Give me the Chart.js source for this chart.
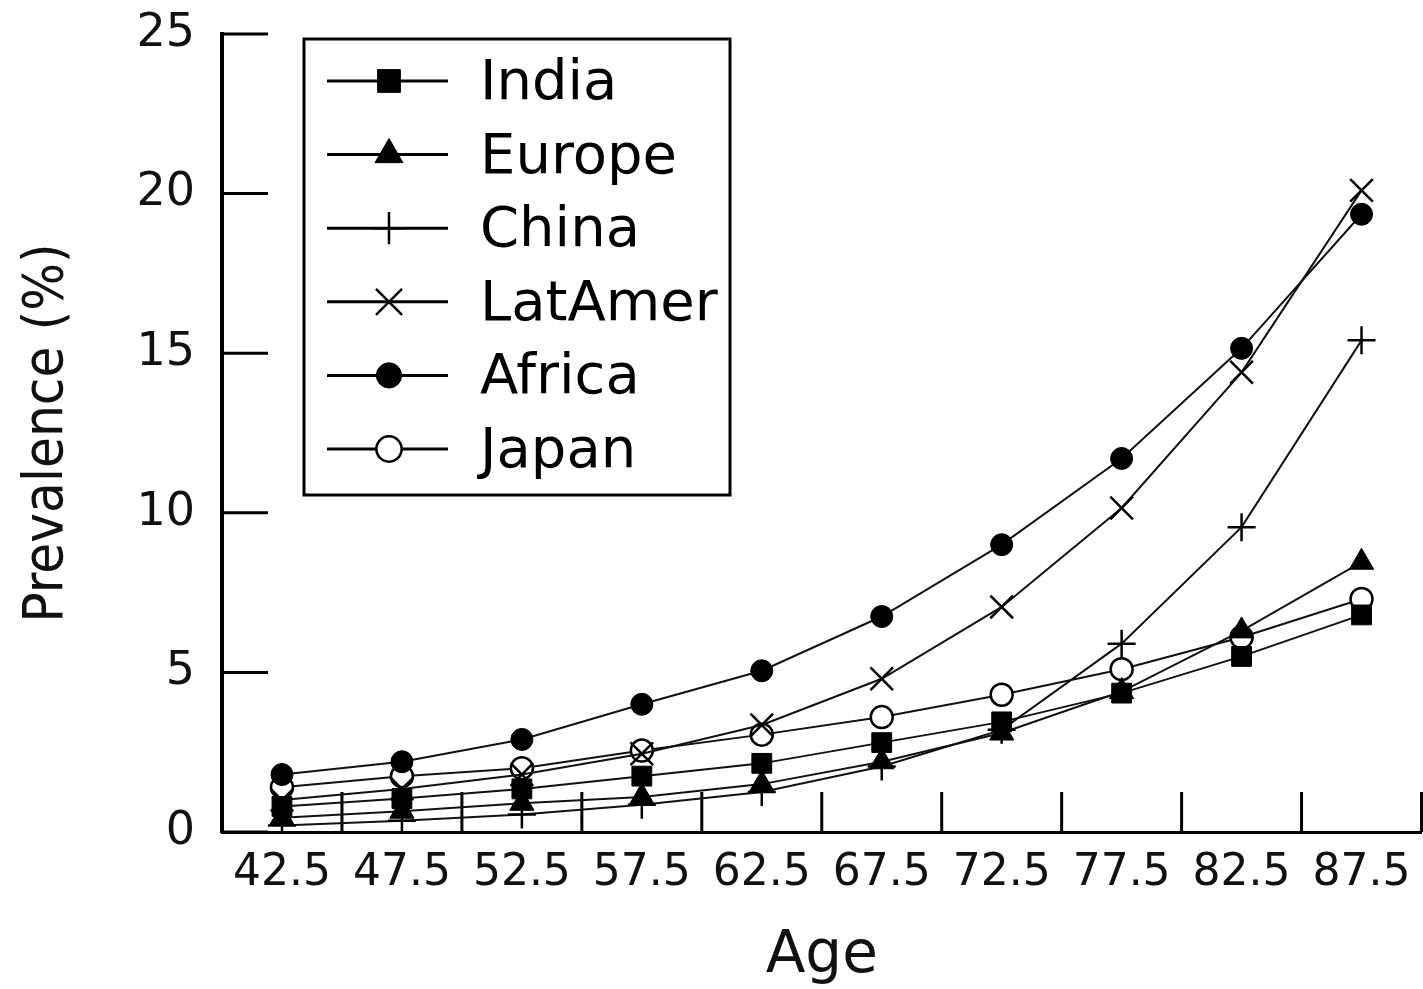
<!DOCTYPE html>
<html>
<head>
<meta charset="utf-8">
<script src="https://cdn.jsdelivr.net/npm/chart.js@4.4.0/dist/chart.umd.min.js"></script>
<style>
    html, body { margin: 0; padding: 0; background: #fff; overflow: hidden; }
    #wrap { width: 1440px; height: 989px; }
</style>
</head>
<body>
<div id="wrap"><canvas id="prevalence-chart"></canvas></div>
<script>
const ages = ['42.5', '47.5', '52.5', '57.5', '62.5', '67.5', '72.5', '77.5', '82.5', '87.5'];
const yTicks = [0, 5, 10, 15, 20, 25];

const india   = [0.8, 1.05, 1.35, 1.75, 2.15, 2.8, 3.45, 4.35, 5.5, 6.8];
const europe  = [0.45, 0.65, 0.9, 1.1, 1.5, 2.2, 3.1, 4.4, 6.3, 8.45];
const china   = [0.2, 0.35, 0.55, 0.85, 1.25, 2.05, 3.2, 5.9, 9.55, 15.4];
const latAmer = [1.0, 1.35, 1.8, 2.45, 3.35, 4.8, 7.05, 10.15, 14.4, 20.1];
const africa  = [1.8, 2.2, 2.9, 4.0, 5.05, 6.75, 9.0, 11.7, 15.15, 19.35];
const japan   = [1.4, 1.75, 2.0, 2.55, 3.05, 3.6, 4.3, 5.1, 6.1, 7.3];

function series(label, data, style, radius, fill) {
    return {
        label: label,
        data: data,
        borderColor: '#111',
        borderWidth: 2,
        tension: 0,
        pointStyle: style,
        pointRadius: radius,
        pointHoverRadius: radius,
        pointBackgroundColor: fill,
        pointBorderColor: '#000',
        pointBorderWidth: (style === 'cross' || style === 'crossRot' || fill === '#fff') ? 2.5 : 1
    };
}

// inner tick marks, like the original figure
const innerTicks = {
    id: 'innerTicks',
    beforeDatasetsDraw(chart) {
        const ctx = chart.ctx;
        const x = chart.scales.x, y = chart.scales.y;
        ctx.save();
        ctx.strokeStyle = '#000';
        ctx.lineWidth = 3;
        ctx.beginPath();
        yTicks.forEach(v => {
            const py = y.getPixelForValue(v);
            ctx.moveTo(x.left, py);
            ctx.lineTo(x.left + 46, py);
        });
        for (let i = 0; i <= ages.length; i++) {
            const px = x.getPixelForValue(i - 0.5);
            ctx.moveTo(px, y.bottom);
            ctx.lineTo(px, y.bottom - 40);
        }
        ctx.stroke();
        ctx.restore();
    }
};

function marker(ctx, style, r, fill, x, y) {
    ctx.fillStyle = fill;
    ctx.strokeStyle = '#000';
    ctx.lineWidth = (style === 'cross' || style === 'crossRot' || fill === '#fff') ? 2.5 : 1;
    if (Chart.helpers && Chart.helpers.drawPoint) {
        Chart.helpers.drawPoint(ctx, { pointStyle: style, radius: r, rotation: 0, borderWidth: ctx.lineWidth }, x, y);
    } else {
        ctx.beginPath();
        ctx.arc(x, y, r, 0, Math.PI * 2);
        ctx.fill();
        ctx.stroke();
    }
}

// boxed legend with a line sample and the marker in the middle
const boxLegend = {
    id: 'boxLegend',
    afterDraw(chart) {
        const ctx = chart.ctx;
        ctx.save();
        ctx.strokeStyle = '#000';
        ctx.lineWidth = 3;
        ctx.strokeRect(304, 39, 426, 456);
        chart.data.datasets.forEach((ds, i) => {
            const ry = 81 + i * 73.6;
            ctx.strokeStyle = '#000';
            ctx.lineWidth = 3;
            ctx.beginPath();
            ctx.moveTo(327, ry);
            ctx.lineTo(448, ry);
            ctx.stroke();
            marker(ctx, ds.pointStyle, ds.pointRadius * 1.15, ds.pointBackgroundColor, 389, ry);
            ctx.fillStyle = '#000';
            ctx.font = '56px "DejaVu Sans"';
            ctx.textAlign = 'left';
            ctx.textBaseline = 'alphabetic';
            ctx.fillText(ds.label, 480, ry + 18);
        });
        ctx.restore();
    }
};

const ctx = document.getElementById('prevalence-chart').getContext('2d');
const myChart = new Chart(ctx, {
    type: 'line',
    data: {
        labels: ages,
        datasets: [
            series('India', india, 'rect', 14, '#000'),
            series('Europe', europe, 'triangle', 14, '#000'),
            series('China', china, 'cross', 14, '#000'),
            series('LatAmer', latAmer, 'crossRot', 16, '#000'),
            series('Africa', africa, 'circle', 11, '#000'),
            series('Japan', japan, 'circle', 11, '#fff')
        ]
    },
    options: {
        responsive: true,
        maintainAspectRatio: false,
        animation: false,
        layout: { padding: { left: 0, right: 5, top: 3, bottom: 0 } },
        plugins: {
            legend: { display: false },
            tooltip: { enabled: false }
        },
        scales: {
            x: {
                type: 'category',
                offset: true,
                grid: { display: false, drawTicks: false },
                border: { display: true, color: '#000', width: 3 },
                ticks: {
                    color: '#111',
                    padding: 15,
                    font: { family: 'DejaVu Sans', size: 44 },
                    maxRotation: 0,
                    autoSkip: false
                },
                title: {
                    display: true,
                    text: 'Age',
                    color: '#111',
                    font: { family: 'DejaVu Sans', size: 58, lineHeight: 1 },
                    padding: { top: 0, bottom: 3 }
                },
                afterFit(scale) { scale.height = 157; }
            },
            y: {
                min: 0,
                max: 25,
                grid: { display: false, drawTicks: false },
                border: { display: true, color: '#000', width: 4 },
                ticks: {
                    stepSize: 5,
                    color: '#111',
                    padding: 27,
                    font: { family: 'DejaVu Sans', size: 46, lineHeight: 0.3 }
                },
                title: {
                    display: true,
                    text: 'Prevalence (%)',
                    color: '#111',
                    font: { family: 'DejaVu Sans Condensed', size: 56, lineHeight: 1 },
                    padding: { top: 19, bottom: 0 }
                },
                afterFit(scale) { scale.width = 222; }
            }
        }
    },
    plugins: [innerTicks, boxLegend]
});
</script>
</body>
</html>
